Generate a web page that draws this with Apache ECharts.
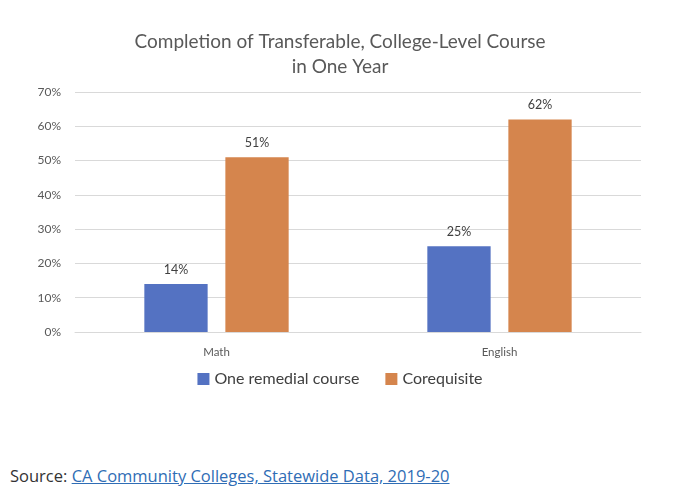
<!DOCTYPE html>
<html>
<head>
<meta charset="utf-8">
<title>Completion of Transferable, College-Level Course in One Year</title>
<script src="https://cdn.jsdelivr.net/npm/echarts@6/dist/echarts.min.js"></script>
<style>
    html, body { margin: 0; padding: 0; background: #fff; }
    #chart { width: 680px; height: 430px; }
    #source {
        position: absolute; left: 10px; top: 464px;
        font-family: "Open Sans", sans-serif; font-size: 16.5px; color: #333;
    }
    #source a { color: #2f6db5; text-decoration: underline; }
</style>
</head>
<body>
<div id="chart"></div>
<div id="source">Source: <a href="#">CA Community Colleges, Statewide Data, 2019-20</a></div>
<script>
// 数据
var categories = ['Math', 'English'];
var remedial = [14, 25];
var corequisite = [51, 62];
var seriesNames = ['One remedial course', 'Corequisite'];

var myChart = echarts.init(document.getElementById('chart'));
var font = 'Lato, "Open Sans", sans-serif';

var option = {
    animation: false,
    title: {
        text: 'Completion of Transferable, College-Level Course\nin One Year',
        left: 'center',
        top: 24,
        textStyle: {
            fontFamily: font,
            fontSize: 19,
            fontWeight: 'normal',
            color: '#595959',
            lineHeight: 25
        }
    },
    legend: {
        data: seriesNames,
        bottom: 38,
        left: 'center',
        itemWidth: 12,
        itemHeight: 12,
        itemGap: 26,
        icon: 'rect',
        textStyle: { fontFamily: font, fontSize: 16, color: '#404040' }
    },
    grid: { left: 75, right: 39, top: 92, bottom: 98 },
    xAxis: {
        type: 'category',
        data: categories,
        axisLine: { lineStyle: { color: '#d9d9d9' } },
        axisTick: { show: false },
        axisLabel: { fontFamily: font, fontSize: 11.5, color: '#595959', margin: 14 }
    },
    yAxis: {
        type: 'value',
        min: 0,
        max: 70,
        interval: 10,
        axisLabel: {
            fontFamily: font, fontSize: 12, color: '#595959', margin: 14,
            formatter: '{value}%'
        },
        splitLine: { lineStyle: { color: '#d9d9d9' } },
        axisLine: { show: false },
        axisTick: { show: false }
    },
    series: [{
        name: seriesNames[0],
        type: 'bar',
        data: remedial,
        barGap: '28%',
        barCategoryGap: '49%',
        itemStyle: { color: '#5472c2' },
        label: {
            show: true, position: 'top', distance: 8,
            fontFamily: font, fontSize: 12.5, color: '#404040',
            formatter: '{c}%'
        }
    }, {
        name: seriesNames[1],
        type: 'bar',
        data: corequisite,
        itemStyle: { color: '#d5854d' },
        label: {
            show: true, position: 'top', distance: 8,
            fontFamily: font, fontSize: 12.5, color: '#404040',
            formatter: '{c}%'
        }
    }]
};
myChart.setOption(option);
</script>
</body>
</html>
